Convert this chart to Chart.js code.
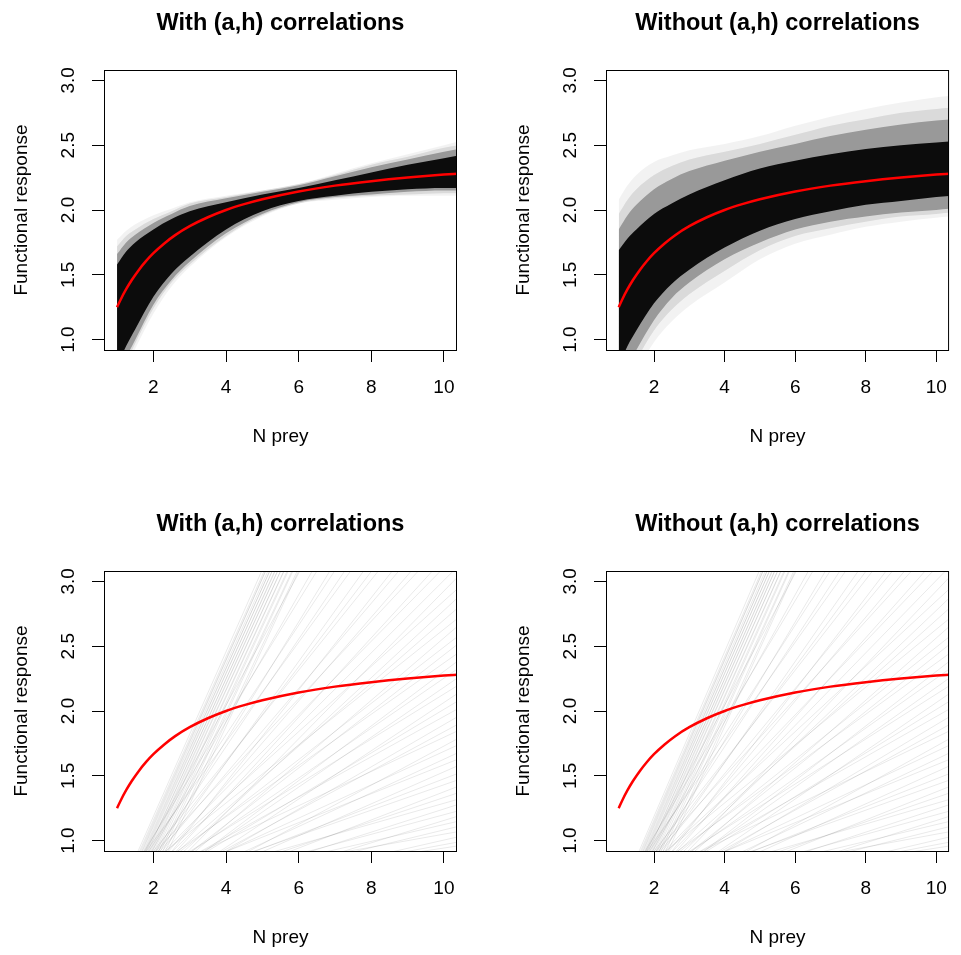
<!DOCTYPE html>
<html>
<head>
<meta charset="utf-8">
<script src="https://cdn.jsdelivr.net/npm/chart.js@4/dist/chart.umd.min.js"></script>
<style>
  html, body { margin: 0; padding: 0; background: #fff; }
  body { width: 961px; height: 955px; position: relative; overflow: hidden; }
  .panel { position: absolute; }
  canvas { display: block; }
</style>
</head>
<body>
<div class="panel" style="left:0;top:0"><canvas id="p1" width="480" height="454"></canvas></div>
<div class="panel" style="left:480px;top:0"><canvas id="p2" width="481" height="454"></canvas></div>
<div class="panel" style="left:0;top:501px"><canvas id="p3" width="480" height="454"></canvas></div>
<div class="panel" style="left:480px;top:501px"><canvas id="p4" width="481" height="454"></canvas></div>
<script>
'use strict';

const xTicks = [2, 4, 6, 8, 10];
const yTicks = [1.0, 1.5, 2.0, 2.5, 3.0];

// red curve (mean functional response)
const redPrey = [1, 1.1, 1.25, 1.4, 1.6, 1.8, 2, 2.3, 2.6, 3, 3.5, 4, 4.5, 5, 6, 7, 8, 9, 10, 10.4];
const meanResponse = [1.250, 1.310, 1.389, 1.458, 1.538, 1.607, 1.667, 1.742, 1.806, 1.875,
  1.944, 2.000, 2.045, 2.083, 2.143, 2.188, 2.222, 2.250, 2.273, 2.281];

// prey densities where the band edges were read
const nPrey = [1, 1.25, 1.5, 2, 2.5, 3, 4, 5, 6, 7, 8, 9, 10, 10.4];

// top left, with (a,h) correlations: envelope of the posterior curves
const withLightHi = [1.77, 1.84, 1.89, 1.96, 2.01, 2.06, 2.11, 2.15, 2.20, 2.28, 2.36, 2.43, 2.50, 2.53];
const withFaintHi = [1.72, 1.80, 1.85, 1.93, 1.99, 2.05, 2.10, 2.15, 2.20, 2.27, 2.35, 2.41, 2.48, 2.50];
const withMidHi   = [1.66, 1.75, 1.81, 1.90, 1.97, 2.03, 2.09, 2.14, 2.19, 2.26, 2.33, 2.39, 2.45, 2.47];
const withCoreHi  = [1.58, 1.68, 1.75, 1.85, 1.93, 1.99, 2.06, 2.12, 2.17, 2.23, 2.29, 2.35, 2.40, 2.42];
const withCoreLo  = [0.80, 0.95, 1.08, 1.33, 1.51, 1.64, 1.85, 1.99, 2.07, 2.11, 2.14, 2.16, 2.17, 2.17];
const withMidLo   = [0.70, 0.86, 1.00, 1.27, 1.46, 1.60, 1.82, 1.97, 2.06, 2.10, 2.12, 2.14, 2.15, 2.15];
const withFaintLo = [0.65, 0.82, 0.97, 1.24, 1.44, 1.58, 1.80, 1.96, 2.05, 2.09, 2.11, 2.12, 2.13, 2.13];
const withLightLo = [0.60, 0.78, 0.93, 1.20, 1.41, 1.56, 1.79, 1.95, 2.05, 2.08, 2.10, 2.11, 2.11, 2.11];

// top right, without (a,h) correlations
const withoutLightHi = [2.08, 2.19, 2.27, 2.37, 2.42, 2.46, 2.51, 2.57, 2.65, 2.72, 2.78, 2.83, 2.87, 2.88];
const withoutFaintHi = [1.97, 2.08, 2.16, 2.27, 2.34, 2.39, 2.45, 2.51, 2.58, 2.65, 2.70, 2.75, 2.78, 2.79];
const withoutMidHi   = [1.85, 1.96, 2.04, 2.16, 2.24, 2.30, 2.38, 2.45, 2.51, 2.57, 2.62, 2.66, 2.69, 2.70];
const withoutCoreHi  = [1.69, 1.78, 1.85, 1.97, 2.05, 2.12, 2.23, 2.32, 2.38, 2.43, 2.47, 2.50, 2.52, 2.53];
const withoutCoreLo  = [0.80, 0.95, 1.07, 1.28, 1.43, 1.54, 1.71, 1.84, 1.93, 1.99, 2.04, 2.07, 2.10, 2.11];
const withoutMidLo   = [0.65, 0.80, 0.92, 1.15, 1.32, 1.44, 1.62, 1.75, 1.85, 1.91, 1.95, 1.98, 2.00, 2.01];
const withoutFaintLo = [0.57, 0.71, 0.84, 1.07, 1.23, 1.35, 1.53, 1.69, 1.80, 1.86, 1.91, 1.95, 1.97, 1.98];
const withoutLightLo = [0.50, 0.62, 0.75, 0.98, 1.14, 1.26, 1.44, 1.62, 1.74, 1.81, 1.87, 1.91, 1.94, 1.95];

// bottom panels: straight lines, response at N = 1 and at N = 10.4
const lineStart = [
  0.552, 0.529, 0.512, 0.490, 0.483, 0.466, 0.444, 0.438, 0.415, 0.403, 0.387, 0.375,
  0.352, 0.342, 0.319, 0.303, 0.273, 0.258, 0.223, 0.202, 0.160, 0.129, 0.080,
  0.52, 0.45, 0.58, 0.40, 0.55, 0.48, 0.61, 0.43, 0.50, 0.57, 0.38, 0.53, 0.46, 0.60,
  0.42, 0.55, 0.49, 0.36, 0.58, 0.44, 0.51, 0.62, 0.40, 0.54, 0.47, 0.59, 0.41, 0.52,
  0.45, 0.57, 0.39, 0.50, 0.56, 0.43, 0.48, 0.61, 0.37, 0.53, 0.46, 0.58, 0.42, 0.51,
  0.55, 0.40, 0.49, 0.57, 0.44, 0.52, 0.38, 0.54, 0.47, 0.60, 0.43, 0.50, 0.56
];
const lineEnd = [
  6.52, 6.45, 6.42, 6.44, 6.36, 6.31, 6.34, 6.25, 6.28, 6.18, 6.22, 6.13,
  6.15, 6.06, 6.08, 5.99, 6.01, 5.92, 5.92, 5.82, 5.83, 5.72, 5.72,
  5.30, 5.05, 4.85, 4.70, 4.52, 4.38, 4.22, 4.10, 3.96, 3.85, 3.73, 3.62, 3.50, 3.41,
  3.30, 3.22, 3.12, 3.04, 2.95, 2.88, 2.80, 2.72, 2.66, 2.58, 2.52, 2.45, 2.39, 2.33,
  2.26, 2.20, 2.14, 2.08, 2.02, 1.96, 1.90, 1.85, 1.79, 1.74, 1.68, 1.63, 1.58, 1.52,
  1.47, 1.42, 1.37, 1.32, 1.28, 1.23, 1.19, 1.15, 1.11, 1.07, 1.03, 0.99, 0.96
];

const titles = ['With (a,h) correlations', 'Without (a,h) correlations'];

Chart.defaults.font.family = '"Liberation Sans", Arial, sans-serif';
Chart.defaults.color = '#000';

let pts = (xs, ys) => xs.map((n, i) => ({x: n, y: ys[i]}));

let redLine = () => ({
  data: pts(redPrey, meanResponse),
  borderColor: '#ff0000',
  borderWidth: 2.5,
  pointRadius: 0,
  cubicInterpolationMode: 'monotone',
  fill: false
});

let bandSets = (layers) => {
  // layers: [[hi, lo, colour], ...], front to back
  let sets = [redLine()];
  layers.forEach(([hi, lo, colour]) => {
    sets.push({
      data: pts(nPrey, hi),
      borderColor: 'rgba(0,0,0,0)',
      borderWidth: 0,
      pointRadius: 0,
      cubicInterpolationMode: 'monotone',
      backgroundColor: colour,
      fill: sets.length + 1
    });
    sets.push({
      data: pts(nPrey, lo),
      borderColor: 'rgba(0,0,0,0)',
      borderWidth: 0,
      pointRadius: 0,
      cubicInterpolationMode: 'monotone',
      fill: false
    });
  });
  return sets;
};

let lineSets = () => {
  let sets = [redLine()];
  lineStart.forEach((y0, i) => {
    sets.push({
      data: [{x: 1, y: y0}, {x: 10.4, y: lineEnd[i]}],
      borderColor: 'rgba(0,0,0,0.085)',
      borderWidth: 1,
      pointRadius: 0,
      fill: false
    });
  });
  return sets;
};

const rFrame = {
  id: 'rFrame',
  afterDraw(chart, args, opts) {
    const {ctx, chartArea: a} = chart;
    const cx = (a.left + a.right) / 2;
    ctx.save();
    ctx.strokeStyle = '#000';
    ctx.lineWidth = 1;
    ctx.strokeRect(a.left + 0.5, a.top + 0.5, a.right - a.left - 1, a.bottom - a.top);
    ctx.fillStyle = '#000';
    ctx.textAlign = 'center';
    ctx.textBaseline = 'alphabetic';
    ctx.font = 'bold 23.5px "Liberation Sans", Arial, sans-serif';
    ctx.fillText(opts.title, cx, a.top - 40);
    ctx.font = '19px "Liberation Sans", Arial, sans-serif';
    ctx.fillText('N prey', cx, a.bottom + 92);
    ctx.translate(a.left - 77, (a.top + a.bottom) / 2);
    ctx.rotate(-Math.PI / 2);
    ctx.fillText('Functional response', 0, 0);
    ctx.restore();
  }
};

let axisGrid = {drawOnChartArea: false, drawTicks: true, tickLength: 12, color: '#000', lineWidth: 1};

let makePanel = (id, title, datasets, left, right, width) => {
  new Chart(document.getElementById(id), {
    type: 'line',
    data: {datasets: datasets},
    plugins: [rFrame],
    options: {
      responsive: false,
      animation: false,
      events: [],
      layout: {padding: {left: left - 100, right: width - right, top: 70, bottom: 44}},
      plugins: {
        legend: {display: false},
        tooltip: {enabled: false},
        rFrame: {title: title}
      },
      scales: {
        x: {
          type: 'linear',
          min: 0.64,
          max: 10.36,
          afterBuildTicks: (s) => { s.ticks = xTicks.map((v) => ({value: v})); },
          afterFit: (s) => { s.height = 60; },
          grid: axisGrid,
          border: {display: false},
          ticks: {autoSkip: false, maxRotation: 0, padding: 14, font: {size: 19}, callback: (v) => String(v)}
        },
        y: {
          type: 'linear',
          min: 0.92,
          max: 3.08,
          afterBuildTicks: (s) => { s.ticks = yTicks.map((v) => ({value: v})); },
          afterFit: (s) => { s.width = 100; },
          grid: axisGrid,
          border: {display: false},
          ticks: {
            autoSkip: false, minRotation: 90, maxRotation: 90, crossAlign: 'center',
            padding: 10, font: {size: 19}, callback: (v) => v.toFixed(1)
          }
        }
      }
    }
  });
};

let withLayers = [
  [withCoreHi, withCoreLo, '#0c0c0c'],
  [withMidHi, withMidLo, 'rgba(0,0,0,0.30)'],
  [withFaintHi, withFaintLo, 'rgba(0,0,0,0.10)'],
  [withLightHi, withLightLo, 'rgba(0,0,0,0.05)']
];
let withoutLayers = [
  [withoutCoreHi, withoutCoreLo, '#0c0c0c'],
  [withoutMidHi, withoutMidLo, 'rgba(0,0,0,0.30)'],
  [withoutFaintHi, withoutFaintLo, 'rgba(0,0,0,0.10)'],
  [withoutLightHi, withoutLightLo, 'rgba(0,0,0,0.05)']
];

makePanel('p1', titles[0], bandSets(withLayers), 104, 457, 480);
makePanel('p2', titles[1], bandSets(withoutLayers), 126, 479, 481);
makePanel('p3', titles[0], lineSets(), 104, 457, 480);
makePanel('p4', titles[1], lineSets(), 126, 479, 481);
</script>
</body>
</html>
